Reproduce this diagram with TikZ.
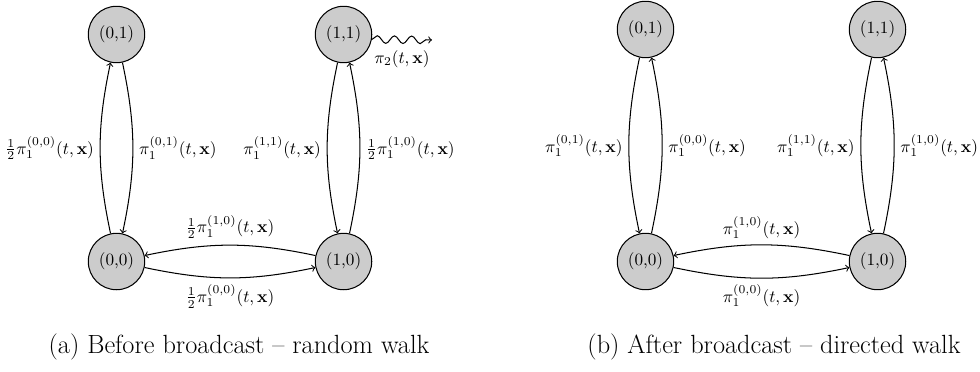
\documentclass[tikz,border=0pt]{standalone}
\usepackage{amsmath}
\usetikzlibrary{positioning, decorations.pathmorphing}
\definecolor{statefill}{HTML}{CCCCCC}

\begin{document}
\begin{tikzpicture}[
      x=0.5814pt, y=0.5814pt, on grid, line width=0.6pt,
      state/.style={circle, draw, fill=statefill, minimum size=32.8pt, inner sep=0pt},
      trans/.style={->},
      leak/.style={->, decorate,
                   decoration={snake, amplitude=2.2pt, segment length=10pt, post length=2pt}},
      subcap/.style={font=\fontsize{15.3}{18}\selectfont, anchor=base}]
    \useasboundingbox (0,0) rectangle (980,372);
    % (a) before broadcast
    \node[state]                     (a01) at (116.5,337.5) {(0,1)};
    \node[state, below=132pt of a01] (a00) {(0,0)};
    \node[state, right=132pt of a01] (a11) {(1,1)};
    \node[state, right=132pt of a00] (a10) {(1,0)};
    \draw[trans] (a00) to[bend left=12]  node[left]  {$\frac{1}{2}\pi_1^{(0,0)}(t,\mathbf{x})$} (a01);
    \draw[trans] (a01) to[bend left=12]  node[right] {$\pi_1^{(0,1)}(t,\mathbf{x})$} (a00);
    \draw[trans] (a11) to[bend right=12] node[left]  {$\pi_1^{(1,1)}(t,\mathbf{x})$} (a10);
    \draw[trans] (a10) to[bend right=12] node[right] {$\frac{1}{2}\pi_1^{(1,0)}(t,\mathbf{x})$} (a11);
    \draw[trans] (a10) to[bend right=12] node[above] {$\frac{1}{2}\pi_1^{(1,0)}(t,\mathbf{x})$} (a00);
    \draw[trans] (a00) to[bend right=12] node[below] {$\frac{1}{2}\pi_1^{(0,0)}(t,\mathbf{x})$} (a10);
    \coordinate (sink) at (432,332);
    \draw[leak] (a11.-10) -- node[below=2.5pt] {$\pi_2(t,\mathbf{x})$} (sink);
    \node[subcap] (capa) at (239,18) {(a) Before broadcast -- random walk};
    % (b) after broadcast
    \node[state]                       (b01) at (645.5,342.5) {(0,1)};
    \node[state, below=134.9pt of b01] (b00) {(0,0)};
    \node[state, right=134.9pt of b01] (b11) {(1,1)};
    \node[state, right=134.9pt of b00] (b10) {(1,0)};
    \draw[trans] (b01) to[bend right=12] node[left]  {$\pi_1^{(0,1)}(t,\mathbf{x})$} (b00);
    \draw[trans] (b00) to[bend right=12] node[right] {$\pi_1^{(0,0)}(t,\mathbf{x})$} (b01);
    \draw[trans] (b11) to[bend right=12] node[left]  {$\pi_1^{(1,1)}(t,\mathbf{x})$} (b10);
    \draw[trans] (b10) to[bend right=12] node[right] {$\pi_1^{(1,0)}(t,\mathbf{x})$} (b11);
    \draw[trans] (b10) to[bend right=12] node[above] {$\pi_1^{(1,0)}(t,\mathbf{x})$} (b00);
    \draw[trans] (b00) to[bend right=12] node[below] {$\pi_1^{(0,0)}(t,\mathbf{x})$} (b10);
    \node[subcap] (capb) at (774,18) {(b) After broadcast -- directed walk};
  \end{tikzpicture}
\end{document}
